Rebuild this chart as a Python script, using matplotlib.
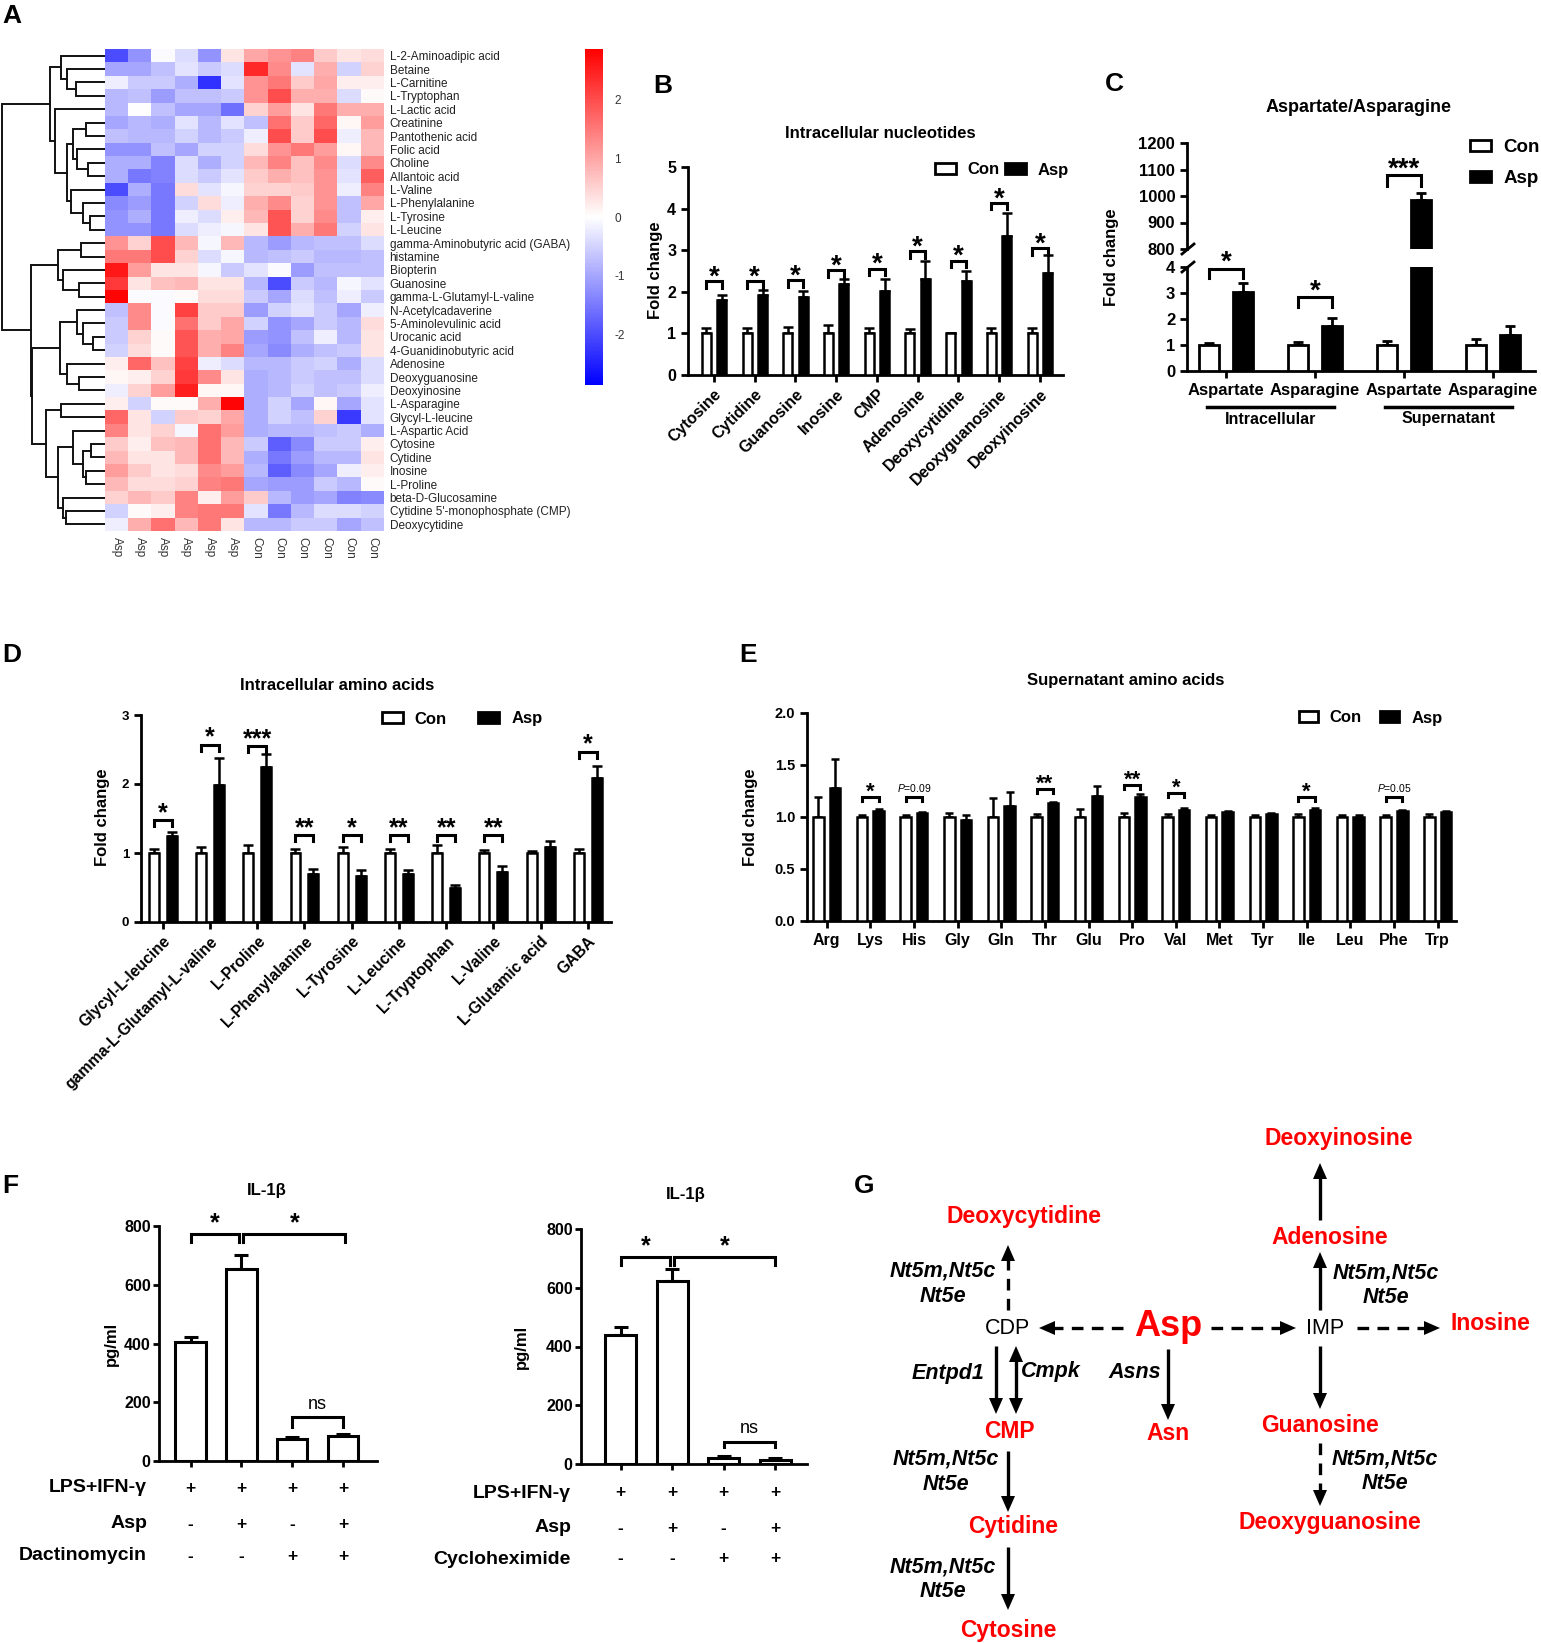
import numpy as np
import matplotlib
matplotlib.use("Agg")
import matplotlib.pyplot as plt
from matplotlib.patches import Patch, Polygon
from matplotlib.transforms import blended_transform_factory as blend

plt.rcParams['font.family'] = ['Liberation Sans', 'DejaVu Sans']
plt.rcParams['axes.unicode_minus'] = False
plt.rcParams['mathtext.fontset'] = 'custom'
plt.rcParams['mathtext.it'] = 'Liberation Sans:italic'
plt.rcParams['mathtext.rm'] = 'Liberation Sans'

# ---------------- data ----------------
# A: heatmap (z-scores), rows in dendrogram order
metabolites = ['L-2-Aminoadipic acid', 'Betaine', 'L-Carnitine', 'L-Tryptophan', 'L-Lactic acid',
               'Creatinine', 'Pantothenic acid', 'Folic acid', 'Choline', 'Allantoic acid', 'L-Valine',
               'L-Phenylalanine', 'L-Tyrosine', 'L-Leucine', 'gamma-Aminobutyric acid (GABA)', 'histamine',
               'Biopterin', 'Guanosine', 'gamma-L-Glutamyl-L-valine', 'N-Acetylcadaverine',
               '5-Aminolevulinic acid', 'Urocanic acid', '4-Guanidinobutyric acid', 'Adenosine',
               'Deoxyguanosine', 'Deoxyinosine', 'L-Asparagine', 'Glycyl-L-leucine', 'L-Aspartic Acid',
               'Cytosine', 'Cytidine', 'Inosine', 'L-Proline', 'beta-D-Glucosamine',
               "Cytidine 5'-monophosphate (CMP)", 'Deoxycytidine']
samples = ['Asp'] * 6 + ['Con'] * 6
hm_values = [
    [-2.0, -1.2, -0.05, -0.4, -1.2, 0.3, 1.0, 1.2, 1.4, 0.6, 0.3, 0.4],
    [-1.0, -1.0, -0.7, -0.3, -0.6, -0.4, 2.4, 1.3, -0.3, 0.9, -0.5, 0.5],
    [-0.2, -0.6, -0.6, -0.9, -2.3, -0.3, 1.2, 1.5, 0.6, 1.0, 0.2, 0.2],
    [-0.8, -0.7, -1.1, -0.7, -0.7, -0.6, 1.2, 2.0, 0.9, 0.9, -0.4, 0.05],
    [-0.8, 0.0, -0.7, -1.0, -1.0, -1.6, 0.5, 1.1, 0.3, 1.5, 0.9, 0.9],
    [-1.0, -0.8, -0.9, -0.3, -0.8, -0.3, -0.7, 1.6, 0.6, 1.7, 0.1, 1.1],
    [-0.7, -0.8, -0.8, -0.5, -0.8, -0.6, -0.2, 2.0, 0.6, 2.0, -0.2, 0.8],
    [-1.2, -1.2, -0.7, -1.0, -0.5, -0.5, 0.4, 1.2, 1.5, 1.1, 0.1, 0.8],
    [-0.9, -0.9, -1.4, -0.4, -0.9, -0.5, 0.8, 1.4, 0.7, 1.3, -0.4, 1.3],
    [-0.9, -1.5, -1.4, -0.4, -0.6, -0.3, 0.6, 0.9, 0.7, 1.2, -0.3, 1.8],
    [-2.0, -0.9, -1.5, 0.4, -0.3, -0.1, 0.5, 0.5, 0.6, 1.2, -0.2, 1.4],
    [-1.3, -1.1, -1.5, -0.5, 0.4, -0.2, 0.9, 1.3, 0.5, 1.2, -0.7, 1.0],
    [-1.2, -0.9, -1.5, -0.2, -0.4, 0.2, 0.8, 1.9, 0.5, 1.3, -0.7, 0.2],
    [-1.2, -1.2, -1.5, -0.4, -0.2, -0.1, 0.3, 1.9, 0.9, 1.5, -0.5, 0.3],
    [1.2, 0.5, 2.0, 0.8, -0.1, 0.8, -0.8, -1.1, -0.8, -0.7, -0.7, -0.4],
    [1.5, 1.5, 2.0, 0.5, -0.4, -0.1, -0.8, -0.7, -0.6, -0.8, -0.8, -0.7],
    [2.6, 1.1, 0.3, 0.3, -0.1, -0.6, -0.3, -0.05, -1.1, -0.7, -0.7, -0.7],
    [2.2, 0.3, 0.7, 0.8, 0.3, 0.3, -0.8, -2.0, -0.6, -0.8, -0.1, -0.3],
    [2.8, -0.05, -0.05, 0.05, 0.4, 0.4, -0.6, -1.0, -0.4, -0.7, -0.2, -0.6],
    [-0.7, 1.3, -0.05, 2.1, 0.6, 0.6, -1.1, -0.5, -0.3, -0.6, -1.0, -0.2],
    [-0.6, 1.3, -0.05, 1.6, 0.6, 1.0, -0.5, -1.2, -1.0, -0.6, -0.8, 0.4],
    [-0.6, 0.5, 0.05, 1.9, 0.9, 1.0, -1.1, -1.2, -0.7, -0.2, -0.8, 0.3],
    [-0.5, 0.4, 0.05, 1.9, 0.9, 1.4, -1.0, -1.3, -0.9, -0.7, -0.6, 0.3],
    [0.2, 1.7, 0.7, 2.1, -0.2, -0.4, -0.8, -0.8, -0.6, -0.5, -0.9, -0.4],
    [0.1, 0.2, 0.5, 2.2, 1.3, 0.3, -0.9, -0.8, -0.6, -0.7, -0.7, -0.4],
    [-0.2, 0.5, 1.1, 2.5, 0.1, 0.1, -0.9, -0.8, -0.5, -0.7, -0.6, -0.2],
    [0.2, -0.5, 0.05, 0.05, 0.9, 2.8, -0.9, -0.5, -1.0, 0.1, -1.0, -0.3],
    [1.7, 0.3, -0.5, 0.6, 0.5, 1.0, -0.9, -0.5, -0.7, 0.5, -2.2, -0.3],
    [1.4, 0.3, 0.5, -0.1, 1.6, 1.1, -0.9, -0.8, -0.8, -0.7, -0.6, -0.9],
    [0.6, 0.2, 0.7, 0.8, 1.6, 0.8, -0.6, -1.8, -1.3, -0.6, -0.6, 0.2],
    [0.8, 0.3, 0.3, 0.8, 1.6, 0.8, -0.9, -1.5, -1.1, -0.8, -0.8, 0.3],
    [1.1, 0.6, 0.3, 0.4, 1.3, 1.1, -0.8, -1.8, -1.3, -1.0, -0.2, 0.2],
    [0.8, 0.4, 0.4, 0.5, 1.4, 1.5, -1.0, -1.1, -1.1, -0.6, -0.8, 0.05],
    [0.5, 0.8, 0.6, 1.4, 0.2, 1.1, 0.6, -0.8, -1.1, -1.0, -1.4, -1.3],
    [-0.5, 0.05, 0.2, 1.4, 1.5, 1.5, -0.3, -1.5, -0.8, -0.4, -0.4, -0.5],
    [-0.2, 0.9, 1.6, 0.8, 1.5, 0.3, -0.8, -0.8, -0.6, -0.6, -1.0, -0.7],
]
# row dendrogram: [merge height, left, right], leaves are row indices
tree_top = [165, [132, 0, [115, 1, [87, 2, 3]]],
            [150, 4, [115, [97, [57, 5, 6], [85, 7, [50, 8, 9]]], [103, 10, [67, 11, [45, 12, 13]]]]]]
tree_b1 = [140, [72, 14, 15], [127, 16, [78, 17, 18]]]
tree_b2 = [135, [85, 19, [65, 20, [37, 21, 22]]], [115, 23, [78, 24, 25]]]
tree_b3 = [178, [132, 26, 27], [140, [95, 28, [67, [43, 29, 30], [57, 31, 32]]], [127, 33, [118, 34, 35]]]]
row_tree = [310, tree_top, [222, tree_b1, [218, tree_b2, tree_b3]]]

# B: intracellular nucleotides
b_cats = ['Cytosine', 'Cytidine', 'Guanosine', 'Inosine', 'CMP', 'Adenosine', 'Deoxycytidine',
          'Deoxyguanosine', 'Deoxyinosine']
b_con = [1.0] * 9
b_con_err = [0.13, 0.13, 0.15, 0.2, 0.12, 0.1, 0.02, 0.12, 0.12]
b_asp = [1.8, 1.92, 1.87, 2.18, 2.02, 2.31, 2.27, 3.34, 2.45]
b_asp_err = [0.13, 0.12, 0.16, 0.12, 0.28, 0.42, 0.22, 0.55, 0.43]
b_sig = ['*'] * 9
b_sig_y = [2.25, 2.25, 2.28, 2.52, 2.56, 2.97, 2.75, 4.14, 3.05]

# C: aspartate / asparagine
c_cats = ['Aspartate', 'Asparagine', 'Aspartate', 'Asparagine']
c_groups = ['Intracellular', 'Supernatant']
c_con = [1.0, 1.0, 1.0, 1.0]
c_con_err = [0.07, 0.13, 0.14, 0.22]
c_asp = [3.05, 1.75, 985, 1.38]
c_asp_err = [0.33, 0.3, 25, 0.37]

# D: intracellular amino acids
d_cats = ['Glycyl-L-leucine', 'gamma-L-Glutamyl-L-valine', 'L-Proline', 'L-Phenylalanine', 'L-Tyrosine',
          'L-Leucine', 'L-Tryptophan', 'L-Valine', 'L-Glutamic acid', 'GABA']
d_con = [1.0] * 10
d_con_err = [0.06, 0.09, 0.11, 0.06, 0.09, 0.06, 0.11, 0.04, 0.035, 0.06]
d_asp = [1.24, 1.99, 2.25, 0.70, 0.67, 0.70, 0.49, 0.73, 1.08, 2.08]
d_asp_err = [0.07, 0.39, 0.18, 0.07, 0.08, 0.06, 0.04, 0.08, 0.09, 0.18]
d_sig = ['*', '*', '***', '**', '*', '**', '**', '**', '', '*']
d_sig_y = [1.48, 2.57, 2.55, 1.26, 1.26, 1.26, 1.26, 1.26, 0, 2.47]

# E: supernatant amino acids
e_cats = ['Arg', 'Lys', 'His', 'Gly', 'Gln', 'Thr', 'Glu', 'Pro', 'Val', 'Met', 'Tyr', 'Ile', 'Leu', 'Phe', 'Trp']
e_con = [1.0] * 15
e_con_err = [0.19, 0.02, 0.02, 0.04, 0.18, 0.03, 0.08, 0.04, 0.03, 0.02, 0.02, 0.03, 0.02, 0.02, 0.03]
e_asp = [1.28, 1.06, 1.04, 0.97, 1.11, 1.13, 1.20, 1.19, 1.07, 1.05, 1.03, 1.07, 1.00, 1.06, 1.05]
e_asp_err = [0.28, 0.02, 0.01, 0.05, 0.13, 0.01, 0.10, 0.03, 0.02, 0.01, 0.01, 0.02, 0.02, 0.01, 0.01]
e_sig = ['', '*', r'$\it{P}$=0.09', '', '', '**', '', '**', '*', '', '', '*', '', r'$\it{P}$=0.05', '']
e_sig_y = [0, 1.19, 1.19, 0, 0, 1.27, 0, 1.31, 1.23, 0, 0, 1.19, 0, 1.19, 0]

# F: IL-1beta
f1_vals = [405, 655, 76, 84]
f1_err = [17, 45, 7, 8]
f2_vals = [440, 622, 19, 15]
f2_err = [25, 42, 7, 6]
f_lps = ['+', '+', '+', '+']
f_asp = ['-', '+', '-', '+']
f_drug = ['-', '-', '+', '+']

# ---------------- figure ----------------
W, H = 1541, 1643
fig = plt.figure(figsize=(W / 100, H / 100), dpi=100)


def px_axes(x0, y0, x1, y1):
    return fig.add_axes([x0 / W, 1 - y1 / H, (x1 - x0) / W, (y1 - y0) / H])


ov = px_axes(0, 0, W, H)
ov.set_xlim(0, W)
ov.set_ylim(H, 0)
ov.axis('off')
ov.set_zorder(10)

for letter, x, y in [('A', 2, 16), ('B', 653, 86), ('C', 1105, 84), ('D', 2, 655),
                     ('E', 739, 655), ('F', 2, 1186), ('G', 854, 1186)]:
    ov.text(x, y, letter, fontsize=19, fontweight='bold', ha='left', va='center')


def style_axes(ax, yfs, length=5, pad=3.5):
    for s in ['top', 'right']:
        ax.spines[s].set_visible(False)
    for s in ['left', 'bottom']:
        ax.spines[s].set_linewidth(2)
    ax.tick_params(width=2, length=length, pad=pad, direction='out')
    ax.tick_params(axis='y', labelsize=yfs)
    for t in ax.get_yticklabels():
        t.set_fontweight('bold')


def grouped_bars(ax, con, con_err, asp, asp_err, w=0.22, off=0.19, lw=1.8, cap=3.5):
    x = np.arange(len(con))
    ax.bar(x - off, con, w, color='white', edgecolor='black', linewidth=lw, zorder=3)
    ax.bar(x + off, asp, w, color='black', edgecolor='black', linewidth=lw, zorder=3)
    ax.errorbar(x - off, con, yerr=[np.zeros(len(con)), con_err], fmt='none', ecolor='black',
                elinewidth=lw, capsize=cap, capthick=lw, zorder=2)
    ax.errorbar(x + off, asp, yerr=[np.zeros(len(asp)), asp_err], fmt='none', ecolor='black',
                elinewidth=lw, capsize=cap, capthick=lw, zorder=2)
    return x


def bracket(ax, x1, x2, y, leg, label, fs, off, lw=2.2, weight='bold'):
    ax.plot([x1, x1, x2, x2], [y - leg, y, y, y - leg], color='black', lw=lw, clip_on=False,
            solid_joinstyle='miter', zorder=4)
    ax.annotate(label, xy=((x1 + x2) / 2, y), xytext=(0, off), textcoords='offset points',
                ha='center', va='baseline', fontsize=fs, fontweight=weight, annotation_clip=False)


def con_asp_legend(ax, x, y, fs, ncol, hl, hh, tpad, colsp, lsp=0.5):
    handles = [Patch(facecolor='white', edgecolor='black', linewidth=2, label='Con'),
               Patch(facecolor='black', edgecolor='black', linewidth=2, label='Asp')]
    ax.legend(handles=handles, loc='center left', bbox_to_anchor=(x, y), bbox_transform=ov.transData,
              ncol=ncol, frameon=False, prop={'weight': 'bold', 'size': fs}, handlelength=hl,
              handleheight=hh, handletextpad=tpad, columnspacing=colsp, borderpad=0,
              borderaxespad=0, labelspacing=lsp)


# ---------------- A: heatmap ----------------
ax_hm = px_axes(105, 49, 384, 531)
im = ax_hm.imshow(np.array(hm_values), cmap='bwr', vmin=-2.85, vmax=2.85, aspect='auto',
                  interpolation='nearest')
ax_hm.yaxis.tick_right()
ax_hm.set_yticks(range(len(metabolites)), labels=metabolites, fontsize=8.5, color='#222')
ax_hm.set_xticks(range(len(samples)), labels=samples, fontsize=8.5, rotation=-90, color='#333')
ax_hm.tick_params(length=0, pad=4)
for s in ax_hm.spines.values():
    s.set_visible(False)

cax = px_axes(585, 49, 603, 385)
cb = fig.colorbar(im, cax=cax)
cb.outline.set_visible(False)
cb.set_ticks([-2, -1, 0, 1, 2])
cax.tick_params(length=0, labelsize=8.5, pad=8, labelcolor='#333')

ax_dn = px_axes(0, 49, 105, 531)
ax_dn.set_ylim(len(metabolites) - 0.5, -0.5)
ax_dn.set_xlim(315, 0)
ax_dn.axis('off')


def draw_tree(node):
    if isinstance(node, int):
        return node, 0
    h, left, right = node
    yl, hl = draw_tree(left)
    yr, hr = draw_tree(right)
    ax_dn.plot([hl, h, h, hr], [yl, yl, yr, yr], color='#111', lw=1.4, solid_joinstyle='miter')
    return (yl + yr) / 2, h


draw_tree(row_tree)

# ---------------- B ----------------
ax_b = px_axes(688, 167, 1063, 375)
xb = grouped_bars(ax_b, b_con, b_con_err, b_asp, b_asp_err)
ax_b.set_xlim(-0.64, 8.57)
ax_b.set_ylim(0, 5)
ax_b.set_yticks(range(6))
ax_b.set_xticks(xb, labels=b_cats, rotation=45, ha='right', rotation_mode='anchor',
                fontsize=11.5, fontweight='bold')
style_axes(ax_b, 11.5)
for i, s in enumerate(b_sig):
    bracket(ax_b, i - 0.19, i + 0.19, b_sig_y[i], 0.16, s, 20, -2.5)
ax_b.set_ylabel('Fold change', fontsize=12, fontweight='bold')
ax_b.yaxis.set_label_coords(663, 270, transform=ov.transData)
ov.text(880, 134, 'Intracellular nucleotides', fontsize=12, fontweight='bold', ha='center', va='center')
con_asp_legend(ax_b, 935, 170, 12, 2, 1.26, 0.6, 0.7, 0.3)

# ---------------- C ----------------
ax_ct = px_axes(1187, 143, 1535, 249)
ax_cb = px_axes(1187, 267, 1535, 371)
for ax in (ax_ct, ax_cb):
    xc = grouped_bars(ax, c_con, c_con_err, c_asp, c_asp_err, w=0.23, lw=2)
    ax.set_xlim(-0.44, 3.47)
ax_ct.set_ylim(800, 1200)
ax_ct.set_yticks(range(800, 1201, 100))
ax_cb.set_ylim(0, 4)
ax_cb.set_yticks(range(5))
ax_cb.set_xticks(xc, labels=c_cats, fontsize=12, fontweight='bold')
style_axes(ax_ct, 12)
style_axes(ax_cb, 12)
ax_ct.spines['bottom'].set_visible(False)
ax_ct.set_xticks([])
bracket(ax_cb, -0.19, 0.19, 3.94, 0.38, '*', 20, -1)
bracket(ax_cb, 0.81, 1.19, 2.85, 0.38, '*', 20, -1)
bracket(ax_ct, 1.81, 2.19, 1079, 41, '***', 20, -1)
for yy in (249, 267):
    ov.plot([1182, 1194], [yy + 5, yy - 5], color='black', lw=2)
tr_c = blend(ax_cb.transData, ov.transData)
for gi, g in enumerate(c_groups):
    ax_cb.plot([2 * gi - 0.21, 2 * gi + 1.21], [407, 407], color='black', lw=2.5, transform=tr_c,
               clip_on=False)
    ax_cb.text(2 * gi + 0.5, 419, g, transform=tr_c, ha='center', va='center', fontsize=11.5,
               fontweight='bold')
ax_cb.set_ylabel('Fold change', fontsize=12, fontweight='bold')
ax_cb.yaxis.set_label_coords(1119, 257, transform=ov.transData)
ov.text(1359, 108, 'Aspartate/Asparagine', fontsize=13, fontweight='bold', ha='center', va='center')
con_asp_legend(ax_cb, 1470, 163, 13.5, 1, 1.1, 0.55, 0.7, 0.5, lsp=0.75)

# ---------------- D ----------------
ax_d = px_axes(141, 715, 611, 922)
xd = grouped_bars(ax_d, d_con, d_con_err, d_asp, d_asp_err, w=0.21, off=0.19)
ax_d.set_xlim(-0.46, 9.49)
ax_d.set_ylim(0, 3)
ax_d.set_yticks(range(4))
ax_d.set_xticks(xd, labels=d_cats, rotation=45, ha='right', rotation_mode='anchor',
                fontsize=11.3, fontweight='bold')
style_axes(ax_d, 9.5)
for i, s in enumerate(d_sig):
    if s:
        bracket(ax_d, i - 0.19, i + 0.19, d_sig_y[i], 0.09, s, 18, 0)
ax_d.set_ylabel('Fold change', fontsize=12, fontweight='bold')
ax_d.yaxis.set_label_coords(110, 817, transform=ov.transData)
ov.text(337, 686, 'Intracellular amino acids', fontsize=12, fontweight='bold', ha='center', va='center')
con_asp_legend(ax_d, 382, 719, 12, 2, 1.26, 0.6, 0.7, 1.9)

# ---------------- E ----------------
ax_e = px_axes(807, 713, 1456, 921)
xe = grouped_bars(ax_e, e_con, e_con_err, e_asp, e_asp_err, w=0.24, off=0.19, cap=3)
ax_e.set_xlim(-0.45, 14.42)
ax_e.set_ylim(0, 2)
ax_e.set_yticks(np.arange(0, 2.01, 0.5), labels=['0.0', '0.5', '1.0', '1.5', '2.0'])
ax_e.set_xticks(xe, labels=e_cats, fontsize=11.5, fontweight='bold')
style_axes(ax_e, 10.5)
for i, s in enumerate(e_sig):
    if s.startswith('$'):
        bracket(ax_e, i - 0.19, i + 0.19, e_sig_y[i], 0.04, s, 7.5, 4, weight='normal')
    elif s:
        bracket(ax_e, i - 0.19, i + 0.19, e_sig_y[i], 0.04, s, 16, -0.5)
ax_e.set_ylabel('Fold change', fontsize=12, fontweight='bold')
ax_e.yaxis.set_label_coords(758, 817, transform=ov.transData)
ov.text(1126, 680, 'Supernatant amino acids', fontsize=12, fontweight='bold', ha='center', va='center')
con_asp_legend(ax_e, 1299, 718, 12, 2, 1.15, 0.6, 0.7, 1.1)


# ---------------- F ----------------
def il1b_panel(box, vals, errs, xlim, brackets, title_xy, ylab_xy):
    ax = px_axes(*box)
    x = np.arange(len(vals))
    ax.bar(x, vals, 0.6, color='white', edgecolor='black', linewidth=2.2, zorder=3)
    ax.errorbar(x, vals, yerr=[np.zeros(len(vals)), errs], fmt='none', ecolor='black',
                elinewidth=2.2, capsize=5, capthick=2.2, zorder=2)
    ax.set_xlim(*xlim)
    ax.set_ylim(0, 800)
    ax.set_yticks(range(0, 801, 200))
    ax.set_xticks(x, labels=[''] * len(x))
    style_axes(ax, 11.5, length=4, pad=2)
    for (x1, x2), y, leg, lab in brackets:
        if lab == 'ns':
            bracket(ax, x1, x2, y, leg, lab, 13, 6, weight='normal')
        else:
            bracket(ax, x1, x2, y, leg, lab, 18, 2.5)
    ax.set_ylabel('pg/ml', fontsize=12, fontweight='bold')
    ax.yaxis.set_label_coords(*ylab_xy, transform=ov.transData)
    ov.text(*title_xy, 'IL-1β', fontsize=12, fontweight='bold', ha='center', va='center')
    return ax


ax_f1 = il1b_panel((159, 1226, 377, 1461), f1_vals, f1_err, (-0.62, 3.67),
                   [((0, 0.96), 772, 28, '*'), ((1.04, 3.05), 772, 28, '*'), ((2, 3), 150, 35, 'ns')],
                   (267, 1191), (119, 1344))
ax_f2 = il1b_panel((581, 1229, 807, 1464), f2_vals, f2_err, (-0.77, 3.62),
                   [((0, 0.96), 705, 29, '*'), ((1.04, 3.0), 705, 29, '*'), ((2, 3), 76, 19, 'ns')],
                   (686, 1194), (529, 1347))

for ax, lx, ys, drug in [(ax_f1, 147, (1488, 1524, 1556), 'Dactinomycin'),
                         (ax_f2, 571, (1493, 1528, 1559), 'Cycloheximide')]:
    tr = blend(ax.transData, ov.transData)
    for name, signs, yy in zip(['LPS+IFN-γ', 'Asp', drug], [f_lps, f_asp, f_drug], ys):
        ov.text(lx, yy, name, ha='right', va='center', fontsize=14, fontweight='bold')
        for i, s in enumerate(signs):
            ov.text(i, yy, s, transform=tr, ha='center', va='center', fontsize=12.5, fontweight='bold')

# ---------------- G: pathway ----------------
red_nodes = [('Deoxyinosine', 1339, 1138), ('Deoxycytidine', 1024, 1217), ('Adenosine', 1330, 1237),
             ('Inosine', 1490, 1324), ('CMP', 1009, 1432), ('Asn', 1168, 1434),
             ('Guanosine', 1320, 1425), ('Deoxyguanosine', 1330, 1523), ('Cytidine', 1013, 1527),
             ('Cytosine', 1008, 1630)]
for name, x, y in red_nodes:
    ov.text(x, y, name, color='#ff0000', fontsize=16.5, fontweight='bold', ha='center', va='center')
ov.text(1168, 1326, 'Asp', color='#ff0000', fontsize=26, fontweight='bold', ha='center', va='center')
for name, x, y in [('CDP', 1008, 1328), ('IMP', 1325, 1328)]:
    ov.text(x, y, name, fontsize=15.5, ha='center', va='center')
enzymes = [('Nt5m,Nt5c\nNt5e', 943, 1284), ('Nt5m,Nt5c\nNt5e', 1386, 1285), ('Nt5m,Nt5c\nNt5e', 946, 1472),
           ('Nt5m,Nt5c\nNt5e', 1385, 1471), ('Nt5m,Nt5c\nNt5e', 943, 1579), ('Entpd1', 948, 1373),
           ('Cmpk', 1051, 1371), ('Asns', 1135, 1372)]
for name, x, y in enzymes:
    ov.text(x, y, name, fontsize=15.5, fontweight='bold', style='italic', ha='center', va='center',
            linespacing=1.25)


def g_arrow(x0, y0, x1, y1, dashed=False, both=False):
    p0, p1 = np.array([x0, y0], float), np.array([x1, y1], float)
    u = (p1 - p0) / np.hypot(*(p1 - p0))
    n = np.array([-u[1], u[0]])
    hl, hw = 16, 7

    def head(tip, d):
        base = tip - d * hl
        ov.add_patch(Polygon([tip, base + n * hw, base - n * hw], closed=True, facecolor='black',
                             edgecolor='none'))

    start = p0 + u * hl * 0.9 if both else p0
    end = p1 - u * hl * 0.9
    ov.plot([start[0], end[0]], [start[1], end[1]], color='black', lw=2.4,
            ls=(0, (3.5, 2.5)) if dashed else '-', solid_capstyle='butt')
    head(p1, u)
    if both:
        head(p0, -u)


g_links = [((1008, 1310, 1008, 1245), True, False), ((1123, 1328, 1039, 1328), True, False),
           ((1211, 1328, 1296, 1328), True, False), ((1357, 1328, 1440, 1328), True, False),
           ((1320, 1310, 1320, 1252), False, False), ((1320, 1220, 1320, 1163), False, False),
           ((1320, 1346, 1320, 1409), False, False), ((1320, 1443, 1320, 1506), True, False),
           ((996, 1346, 996, 1414), False, False), ((1016, 1414, 1016, 1346), False, True),
           ((1168, 1349, 1168, 1420), False, False), ((1008, 1451, 1008, 1512), False, False),
           ((1008, 1547, 1008, 1610), False, False)]
for (x0, y0, x1, y1), dashed, both in g_links:
    g_arrow(x0, y0, x1, y1, dashed, both)

fig.savefig('out.png', dpi=100)
